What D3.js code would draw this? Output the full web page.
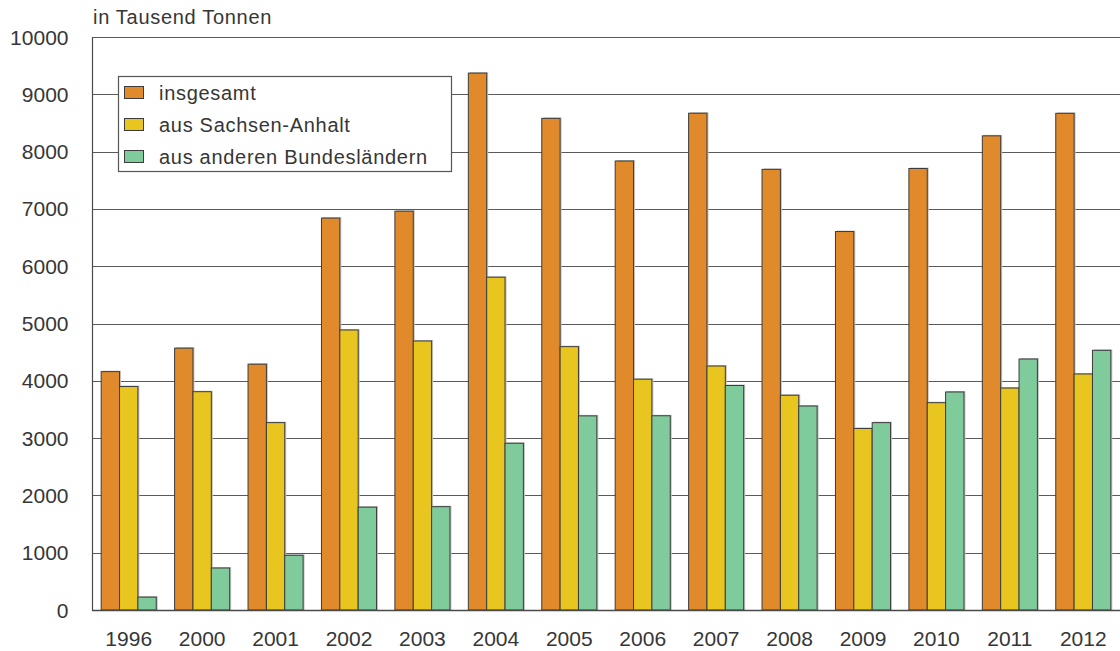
<!DOCTYPE html>
<html>
<head>
<meta charset="utf-8">
<script src="https://cdn.jsdelivr.net/npm/d3@7"></script>
<style>
  html, body { margin: 0; padding: 0; background: #fff; }
  svg { display: block; }
  text { font-family: "Liberation Sans", Arial, Helvetica, sans-serif; fill: #363636; }
</style>
</head>
<body>
<svg id="chart" width="1120" height="651"></svg>
<script>
const years = ["1996","2000","2001","2002","2003","2004","2005","2006","2007","2008","2009","2010","2011","2012"];
const insgesamt = [4160, 4570, 4290, 6840, 6960, 9370, 8580, 7836, 8670, 7690, 6605, 7705, 8275, 8668];
const sachsenAnhalt = [3900, 3810, 3270, 4887, 4695, 5808, 4596, 4028, 4258, 3748, 3168, 3618, 3874, 4119];
const andereLaender = [225, 733, 955, 1795, 1803, 2910, 3388, 3390, 3918, 3560, 3270, 3805, 4380, 4532];
const seriesNames = ["insgesamt", "aus Sachsen-Anhalt", "aus anderen Bundesländern"];
const seriesColors = ["#E08A2B", "#E9C61F", "#80CB9B"];
const yTicks = [0,1000,2000,3000,4000,5000,6000,7000,8000,9000,10000];
const unitLabel = "in Tausend Tonnen";

const series = [insgesamt, sachsenAnhalt, andereLaender];
const svg = d3.select("#chart");
const mLeft = 92, mRight = 1120, mTop = 37, mBottom = 610;

const x0 = d3.scaleBand().domain(years).range([mLeft, mRight]).paddingInner(0.25).paddingOuter(0.125);
const x1 = d3.scaleBand().domain(d3.range(series.length)).range([0, x0.bandwidth()]);
const y = d3.scaleLinear().domain([0, 10000]).range([mBottom, mTop]);

// gridlines
svg.append("g").selectAll("line").data(yTicks).join("line")
  .attr("x1", mLeft).attr("x2", mRight)
  .attr("y1", d => Math.round(y(d)) + 0.5).attr("y2", d => Math.round(y(d)) + 0.5)
  .attr("stroke", "#5a5a5a").attr("stroke-width", 1.2);

// y axis line
svg.append("line").attr("x1", mLeft + 0.5).attr("x2", mLeft + 0.5)
  .attr("y1", Math.round(y(10000)) + 0.5).attr("y2", Math.round(y(0)) + 0.5)
  .attr("stroke", "#4a4a4a").attr("stroke-width", 1.2);

// bars
const groups = svg.append("g").selectAll("g").data(years).join("g")
  .attr("transform", d => `translate(${x0(d)},0)`);

series.forEach((vals, si) => {
  groups.append("rect")
    .attr("x", (d, i) => x1(si) + 1.5)
    .attr("y", (d, i) => y(vals[i]) - 1)
    .attr("width", x1.bandwidth())
    .attr("height", (d, i) => y(0) - y(vals[i]) + 1)
    .attr("fill", "#c4c4c4");
  groups.append("rect")
    .attr("x", (d, i) => x1(si))
    .attr("y", (d, i) => y(vals[i]))
    .attr("width", x1.bandwidth())
    .attr("height", (d, i) => y(0) - y(vals[i]))
    .attr("fill", seriesColors[si])
    .attr("stroke", "#3c3c3c").attr("stroke-width", 1);
});

// baseline
svg.append("line").attr("x1", mLeft).attr("x2", mRight)
  .attr("y1", Math.round(y(0)) + 0.5).attr("y2", Math.round(y(0)) + 0.5)
  .attr("stroke", "#4a4a4a").attr("stroke-width", 1.4);

// y tick labels
svg.append("g").selectAll("text").data(yTicks).join("text")
  .attr("x", 68.5).attr("y", d => y(d))
  .attr("dy", "0.36em")
  .attr("text-anchor", "end")
  .attr("font-size", 21)
  .text(d => d);

// x labels
svg.append("g").selectAll("text").data(years).join("text")
  .attr("x", d => x0(d) + x0.bandwidth() / 2)
  .attr("y", 646)
  .attr("text-anchor", "middle")
  .attr("font-size", 21)
  .text(d => d);

// unit label
svg.append("text").attr("x", 93).attr("y", 24)
  .attr("font-size", 20).attr("letter-spacing", 0.7)
  .text(unitLabel);

// legend
const lg = svg.append("g");
lg.append("rect").attr("x", 118.5).attr("y", 76.5).attr("width", 333).attr("height", 95)
  .attr("fill", "#fff").attr("stroke", "#555").attr("stroke-width", 1.2);
const rowY = [92.5, 124.5, 156.5];
seriesNames.forEach((name, i) => {
  lg.append("rect").attr("x", 124.5).attr("y", rowY[i] - 6).attr("width", 19).attr("height", 12)
    .attr("fill", seriesColors[i]).attr("stroke", "#3c3c3c").attr("stroke-width", 1);
  lg.append("text").attr("x", 159).attr("y", rowY[i]).attr("dy", "0.36em")
    .attr("font-size", 20).attr("letter-spacing", 0.7)
    .text(name);
});
</script>
</body>
</html>
